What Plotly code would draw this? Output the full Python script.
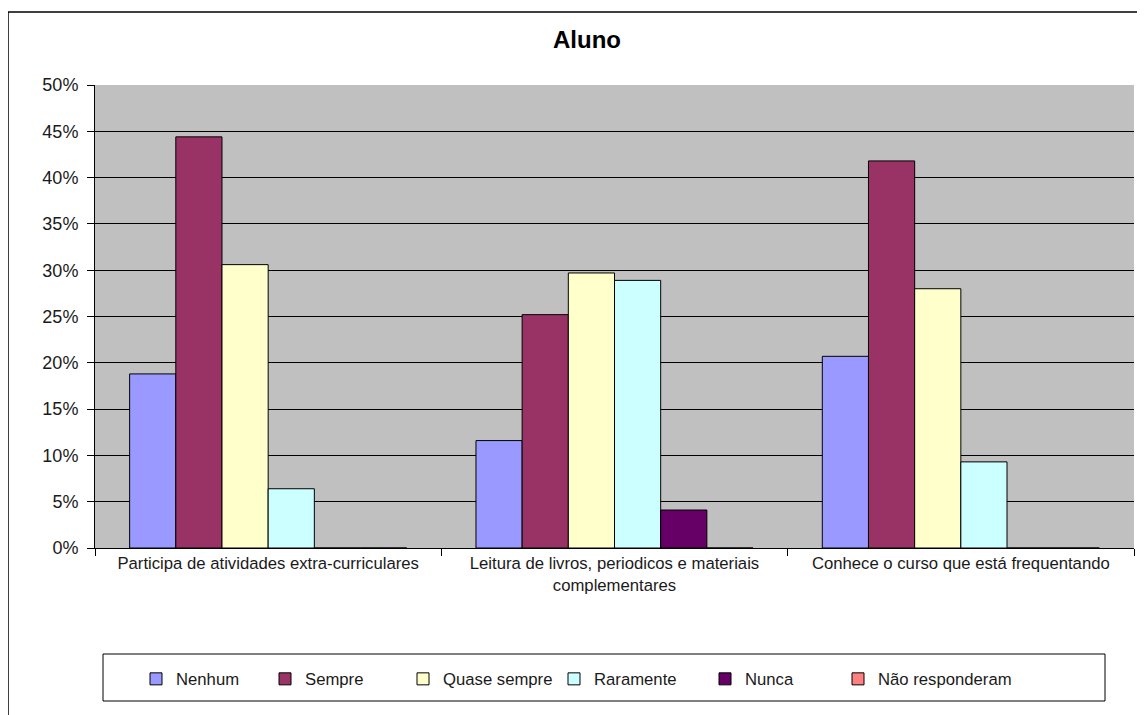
import plotly.graph_objects as go

categories = [
    "Participa de atividades extra-curriculares",
    "Leitura de livros, periodicos e materiais<br>complementares",
    "Conhece o curso que está frequentando",
]
series_names = ["Nenhum", "Sempre", "Quase sempre", "Raramente", "Nunca", "Não responderam"]
nenhum = [18.8, 11.6, 20.7]
sempre = [44.4, 25.2, 41.8]
quase_sempre = [30.6, 29.7, 28.0]
raramente = [6.4, 28.9, 9.3]
nunca = [0, 4.1, 0]
nao_responderam = [0, 0, 0]
series_values = [nenhum, sempre, quase_sempre, raramente, nunca, nao_responderam]
colors = ["#9999FF", "#993366", "#FFFFCC", "#CCFFFF", "#660066", "#FF8080"]
y_ticks = [0, 5, 10, 15, 20, 25, 30, 35, 40, 45, 50]
y_tick_labels = [f"{v}%" for v in y_ticks]

FONT = "Arial, Liberation Sans, sans-serif"
TXT = "#1a1a1a"

# page offset (browser body margin)
OFF = 8
W, H = 1145 - OFF, 715 - OFF
# plot area in reference page pixels
PL, PR, PT, PB = 95, 1134, 85, 548
L, R, T, B = PL - OFF, W - (PR - OFF), PT - OFF, H - (PB - OFF)
pw, ph = W - L - R, H - T - B


def fx(p):
    return (p - OFF - L) / pw


def fy(p):
    return (H - B - (p - OFF)) / ph


# left edge (reference px) of each legend entry's text
legend_text_x = [176, 305, 443, 594, 745, 878]

fig = go.Figure()
legend_layouts = {}
for i, (name, vals, col) in enumerate(zip(series_names, series_values, colors)):
    lg = "legend" if i == 0 else f"legend{i + 1}"
    fig.add_trace(go.Bar(
        name=name, x=categories, y=vals, legend=lg, showlegend=True,
        marker=dict(color=col, line=dict(color="#000000", width=1)),
    ))
    legend_layouts[lg] = dict(
        orientation="h", x=fx(legend_text_x[i] - 40), xanchor="left", xref="paper",
        y=fy(679), yanchor="middle", yref="paper",
        borderwidth=0, bgcolor="rgba(0,0,0,0)", itemwidth=30,
        font=dict(size=16.7, family=FONT, color=TXT),
    )

fig.update_layout(
    width=W, height=H,
    showlegend=True,
    margin=dict(l=L, r=R, t=T, b=B, pad=0),
    paper_bgcolor="white",
    plot_bgcolor="#C0C0C0",
    barmode="group",
    bargap=0.2,
    bargroupgap=0,
    font=dict(family=FONT, size=16.7, color=TXT),
    title=dict(text="<b>Aluno</b>", x=fx(587), xref="paper", xanchor="center",
               y=1 - (40 - OFF) / H, yanchor="middle",
               font=dict(size=24, family=FONT, color="#000000")),
    xaxis=dict(
        type="category", tickson="boundaries", ticks="outside", ticklen=7,
        tickcolor="#000000", showline=True, linecolor="#000000", linewidth=1,
        showgrid=False, tickfont=dict(size=16.7, color=TXT),
    ),
    yaxis=dict(
        range=[0, 50], tickvals=y_ticks, ticktext=y_tick_labels,
        ticks="outside", ticklen=7, ticklabelstandoff=5,
        tickcolor="#000000", showline=True, linecolor="#000000", linewidth=1,
        showgrid=True, gridcolor="#000000", gridwidth=1, zeroline=False,
        tickfont=dict(size=18, color=TXT),
    ),
    shapes=[
        dict(type="rect", xref="paper", yref="paper",
             x0=fx(OFF), x1=fx(1160), y0=fy(730), y1=fy(12),
             line=dict(color="#000000", width=1.5), fillcolor="rgba(0,0,0,0)",
             layer="below"),
        dict(type="rect", xref="paper", yref="paper",
             x0=fx(103), x1=fx(1105), y0=fy(701), y1=fy(654),
             line=dict(color="#000000", width=1), fillcolor="white",
             layer="below"),
    ],
    **legend_layouts,
)

fig.write_html("out.html")
